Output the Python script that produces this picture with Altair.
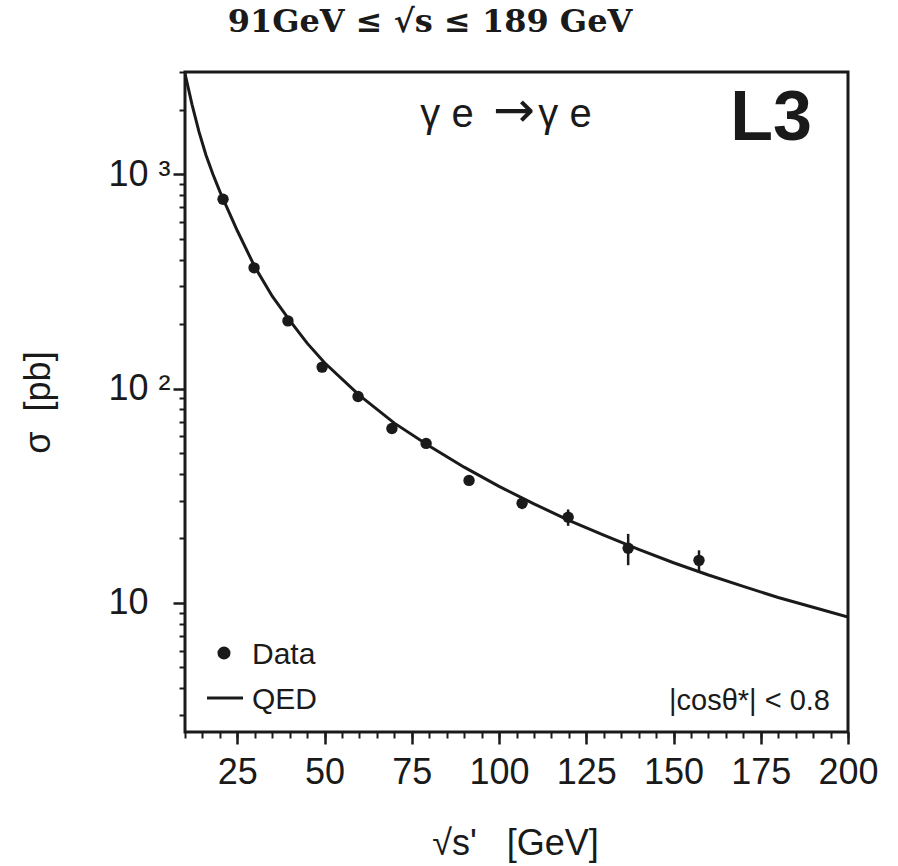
import altair as alt
import pandas as pd

# ---- data ----
data_x = [20.9, 29.8, 39.5, 49.3, 59.6, 69.3, 79.1, 91.4, 106.6, 119.8, 137.0, 157.3]
data_sigma = [765, 366, 207, 126, 91.8, 65.2, 55.5, 37.3, 29.2, 25.1, 18.0, 15.8]
data_err = [20, 10, 6, 4, 3, 2.2, 2.0, 1.8, 1.8, 2.2, 3.0, 1.8]

qed_x = [10, 12, 14, 16, 18, 20, 22, 25, 30, 35, 40, 45, 50, 60, 70, 80, 90,
         100, 110, 120, 130, 140, 150, 160, 170, 180, 190, 200]
qed_sigma = [2950, 2120, 1580, 1230, 1000, 830, 700, 545, 370, 270, 208, 163, 132,
             93, 69, 54, 43, 35, 29, 24.3, 20.7, 17.8, 15.4, 13.5, 11.95, 10.6, 9.55, 8.6]

x_major = [25, 50, 75, 100, 125, 150, 175, 200]
x_minor = [10, 15, 20, 25, 30, 35, 40, 45, 50, 55, 60, 65, 70, 75, 80, 85, 90, 95, 100,
           105, 110, 115, 120, 125, 130, 135, 140, 145, 150, 155, 160, 165, 170, 175,
           180, 185, 190, 195, 200]
y_major = [10, 100, 1000]
y_minor = [3, 4, 5, 6, 7, 8, 9, 20, 30, 40, 50, 60, 70, 80, 90,
           200, 300, 400, 500, 600, 700, 800, 900, 2000, 3000]

legend_labels = ["Data", "QED"]

points = pd.DataFrame({
    "x": data_x,
    "sigma": data_sigma,
    "lo": [s - e for s, e in zip(data_sigma, data_err)],
    "hi": [s + e for s, e in zip(data_sigma, data_err)],
})
qed = pd.DataFrame({"x": qed_x, "sigma": qed_sigma})

INK = "#1a1a1a"
SANS = "Liberation Sans"
NB = "\u00a0"

xs = alt.Scale(domain=[10, 200], nice=False, zero=False)
ys = alt.Scale(type="log", domain=[2.5, 3000], nice=False)

x_axis_major = alt.Axis(
    orient="bottom", values=x_major, tickSize=12, tickWidth=2.5, tickColor=INK,
    domain=False, grid=False, labelFont=SANS, labelFontSize=36, labelColor=INK,
    labelFlush=False, labelOverlap=False, labelBaseline="alphabetic", labelPadding=39,
    title="√s'" + NB * 3 + "[GeV]", titleFont=SANS, titleFontSize=36, titleFontWeight="normal",
    titleColor=INK, titleX=330, titleY=122, titleBaseline="alphabetic", titleAngle=0,
)
y_axis_major = alt.Axis(
    orient="left", values=y_major,
    labelExpr="datum.value == 1000 ? '10 ³' : datum.value == 100 ? '10 ²' : '10'",
    tickSize=12, tickWidth=2.5, tickColor=INK, domain=False, grid=False,
    labelFont=SANS, labelFontSize=36, labelColor=INK, labelAlign="left",
    labelPadding=65, labelBaseline="middle", labelFlush=False, labelOverlap=False,
    title="σ" + NB * 2 + "[pb]", titleFont=SANS, titleFontSize=36, titleFontWeight="normal",
    titleColor=INK, titleX=-128, titleY=330, titleAngle=-90,
)
x_axis_minor = alt.Axis(orient="bottom", values=x_minor, tickSize=6, tickWidth=2,
                        tickColor=INK, labels=False, domain=False, grid=False, title=None)
y_axis_minor = alt.Axis(orient="left", values=y_minor, tickSize=6, tickWidth=2,
                        tickColor=INK, labels=False, domain=False, grid=False, title=None)

curve = alt.Chart(qed).mark_line(color=INK, strokeWidth=3, clip=True).encode(
    x=alt.X("x:Q", scale=xs, axis=x_axis_major),
    y=alt.Y("sigma:Q", scale=ys, axis=y_axis_major),
)
minor = alt.Chart(qed).mark_line(opacity=0).encode(
    x=alt.X("x:Q", scale=xs, axis=x_axis_minor),
    y=alt.Y("sigma:Q", scale=ys, axis=y_axis_minor),
)
errbars = alt.Chart(points).mark_rule(color=INK, strokeWidth=2.5).encode(
    x=alt.X("x:Q", scale=xs, axis=None),
    y=alt.Y("lo:Q", scale=ys, axis=None),
    y2="hi:Q",
)
pts = alt.Chart(points).mark_point(
    filled=True, color=INK, opacity=1, size=130, shape="circle"
).encode(
    x=alt.X("x:Q", scale=xs, axis=None),
    y=alt.Y("sigma:Q", scale=ys, axis=None),
)

# ---- legend (drawn in the corner of the frame) ----
one = pd.DataFrame({"k": [0]})
leg_dot = alt.Chart(one).mark_point(filled=True, color=INK, opacity=1, size=170, shape="circle").encode(
    x=alt.value(39), y=alt.value(581)
)
leg_line = alt.Chart(one).mark_rule(color=INK, strokeWidth=3).encode(
    x=alt.value(22), x2=alt.value(58), y=alt.value(626)
)


def label(text, x, y, size, font=SANS, weight="normal", align="center"):
    return alt.Chart(pd.DataFrame({"t": [text]})).mark_text(
        x=x, y=y, fontSize=size, font=font, fontWeight=weight, align=align,
        baseline="alphabetic", color=INK,
    ).encode(text="t:N")


leg_data = label(legend_labels[0], 67, 592, 30, align="left")
leg_qed = label(legend_labels[1], 67, 637, 30, align="left")

title = label("91GeV ≤ √s ≤ 189 GeV", 245, -40, 32, font="DejaVu Serif", weight="bold")
proc_a = label("γ e", 262, 55, 40)
proc_arrow = label("→", 329, 55, 50, font="DejaVu Sans")
proc_b = label("γ e", 380, 55, 40)
l3 = label("L3", 627, 68, 70, weight="bold", align="right")
cut = label("|cosθ*| < 0.8", 645, 638, 29, align="right")

chart = alt.layer(
    minor, curve, errbars, pts, leg_dot, leg_line, leg_data, leg_qed,
    title, proc_a, proc_arrow, proc_b, l3, cut,
).resolve_axis(
    x="independent", y="independent"
).properties(
    width=663, height=660,
    padding={"left": 185, "top": 72, "right": 50, "bottom": 134},
    autosize=alt.AutoSizeParams(type="none"),
    background="white",
).configure_view(stroke=INK, strokeWidth=3)

chart.save("out.html", embed_options={"renderer": "svg", "actions": False})
